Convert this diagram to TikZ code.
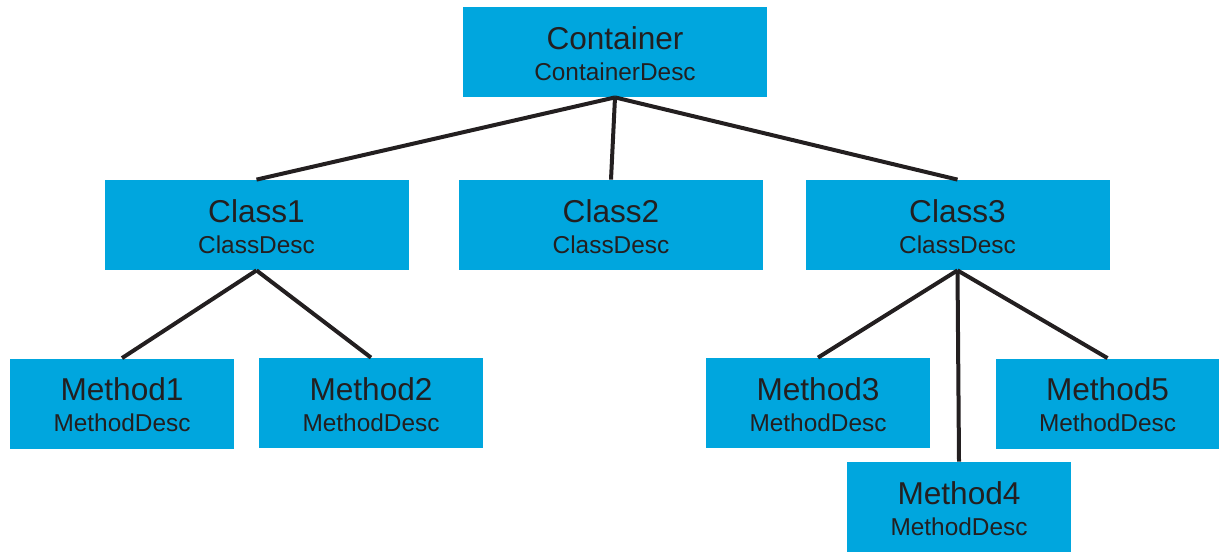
\documentclass[tikz,border=0pt]{standalone}
\usepackage{fontspec}
\setmainfont{Liberation Sans}
\definecolor{boxblue}{RGB}{0,166,222}
\definecolor{inkgray}{RGB}{35,31,32}
\begin{document}
\begin{tikzpicture}[x=0.5pt, y=-0.5pt,
    box/.style={fill=boxblue, inner sep=0pt, minimum height=45pt},
    widebox/.style={box, minimum width=152pt},
    smallbox/.style={box, minimum width=112pt},
    title/.style={anchor=base, inner sep=0pt, text=inkgray, font=\fontsize{15.8}{18}\selectfont},
    desc/.style={anchor=base, inner sep=0pt, text=inkgray, font=\fontsize{12.2}{14}\selectfont},
    link/.style={draw=inkgray, line width=2pt}]
    \useasboundingbox (0,0) rectangle (1219,552);

    % Container
    \node[widebox] (cont) at (615,52) {};
    \path (cont.center) ++(0,-3) node[title] (contt) {Container}
          ++(0,31) node[desc] (contd) {ContainerDesc};

    % Classes
    \foreach \i/\x in {1/256.5, 2/611, 3/957.5} {
      \node[widebox] (c\i) at (\x,225) {};
      \path (c\i.center) ++(0,-3) node[title] (c\i t) {Class\i}
            ++(0,31) node[desc] (c\i d) {ClassDesc};
    }

    % Methods
    \foreach \i/\x/\y in {1/122/403.5, 2/371/403, 3/818/403, 4/959/507, 5/1107.5/403.5} {
      \node[smallbox] (m\i) at (\x,\y) {};
      \path (m\i.center) ++(0,-3) node[title] (m\i t) {Method\i}
            ++(0,31) node[desc] (m\i d) {MethodDesc};
    }

    % Connections
    \foreach \i in {1, 2, 3} {
      \draw[link] (cont.south) -- (c\i.north);
    }
    \foreach \j in {1, 2} {
      \draw[link] (c1.south) -- (m\j.north);
    }
    \foreach \j in {3, 4, 5} {
      \draw[link] (c3.south) -- (m\j.north);
    }
\end{tikzpicture}
\end{document}
